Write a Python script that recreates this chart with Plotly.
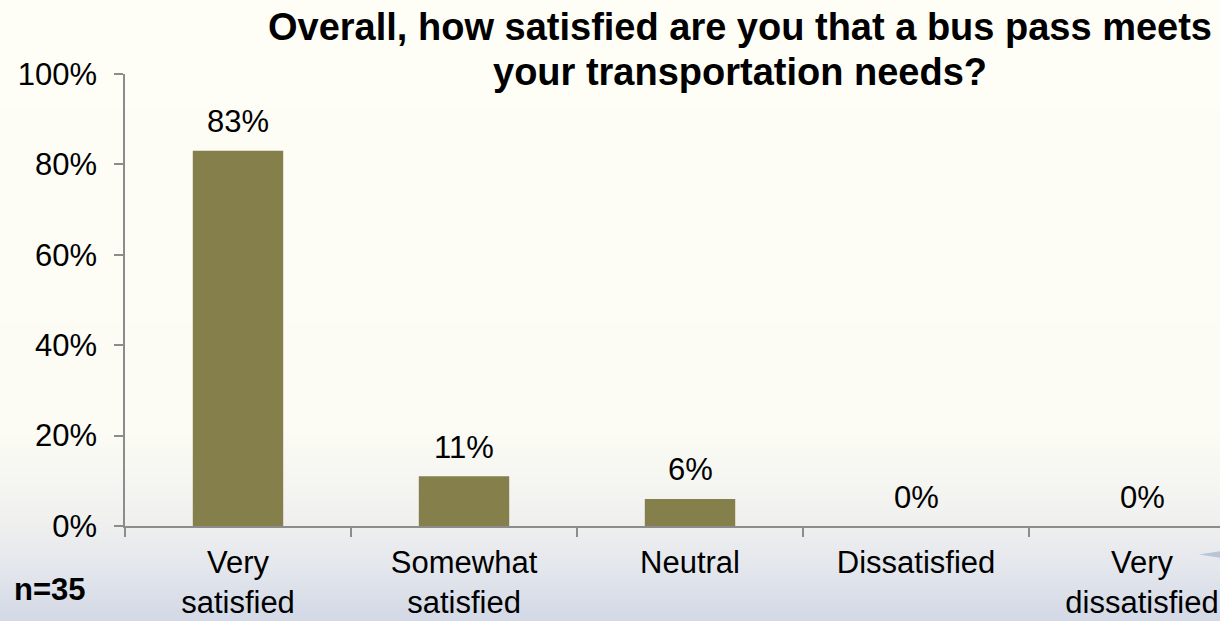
import plotly.graph_objects as go

# Survey results (percent of respondents, n=35)
categories = ["Very<br>satisfied", "Somewhat<br>satisfied", "Neutral", "Dissatisfied", "Very<br>dissatisfied"]
percent = [83, 11, 6, 0, 0]
y_ticks = [0, 20, 40, 60, 80, 100]
y_tick_labels = ["0%", "20%", "40%", "60%", "80%", "100%"]
title_lines = ["Overall, how satisfied are you that a bus pass meets", "your transportation needs?"]
sample_note = "n=35"

W, H = 1220, 621
L, R, T, B = 125, 0, 74, 95
plot_w = W - L - R
plot_h = H - T - B

FONT = "Arial, Liberation Sans, sans-serif"
BAR = "#857F4B"
AXIS = "#8C8C8C"


def px_x(px):
    return (px - L) / plot_w


def px_y(py):
    return (H - B - py) / plot_h


def hex_rgb(h):
    h = h.lstrip("#")
    return tuple(int(h[i:i + 2], 16) for i in (0, 2, 4))


# vertical background gradient (cream at top, pale blue at the bottom)
stops = [(0, "#FEFEF6"), (430, "#FCFCF5"), (520, "#F0F0EF"), (570, "#E3E6EC"), (621, "#D2D8E5")]


def grad(py):
    for (y0, c0), (y1, c1) in zip(stops, stops[1:]):
        if y0 <= py <= y1:
            t = (py - y0) / (y1 - y0)
            a, b = hex_rgb(c0), hex_rgb(c1)
            return "rgb(%d,%d,%d)" % tuple(round(a[i] + (b[i] - a[i]) * t) for i in range(3))
    return stops[-1][1]


shapes = []
step = 2
for py in range(0, H, step):
    shapes.append(dict(
        type="rect", xref="paper", yref="paper", layer="below",
        x0=px_x(0), x1=px_x(W), y0=px_y(py + step + 0.5), y1=px_y(py),
        fillcolor=grad(py + step / 2), line=dict(width=0),
    ))

# small decorative wedge at the lower right corner
shapes.append(dict(
    type="path", xref="paper", yref="paper", layer="below",
    path="M %f,%f L %f,%f L %f,%f Z" % (px_x(1199), px_y(554.5), px_x(1221), px_y(551), px_x(1221), px_y(558)),
    fillcolor="#B9C4D6", line=dict(width=0),
))

fig = go.Figure()
fig.add_trace(go.Bar(
    x=categories, y=percent, width=0.4,
    marker=dict(color=BAR, line=dict(width=0)),
    hoverinfo="skip",
))

annotations = []
for c, v in zip(categories, percent):
    annotations.append(dict(
        x=c, y=v, xref="x", yref="y", text=f"{v}%", showarrow=False,
        yanchor="middle", yshift=29, font=dict(family=FONT, size=31, color="#000000"),
    ))

for line, cy in zip(title_lines, [27, 72]):
    annotations.append(dict(
        x=px_x(740), y=px_y(cy), xref="paper", yref="paper", text=f"<b>{line}</b>",
        showarrow=False, xanchor="center", yanchor="middle",
        font=dict(family=FONT, size=38, color="#000000"),
    ))

annotations.append(dict(
    x=px_x(12), y=px_y(589), xref="paper", yref="paper", text=f"<b>{sample_note}</b>",
    showarrow=False, xanchor="left", yanchor="middle",
    font=dict(family=FONT, size=31, color="#000000"),
))

fig.update_layout(
    width=W, height=H,
    margin=dict(l=L, r=R, t=T, b=B, pad=0),
    paper_bgcolor="#FEFEF6", plot_bgcolor="rgba(0,0,0,0)",
    showlegend=False, bargap=0.6,
    shapes=shapes, annotations=annotations,
    font=dict(family=FONT, size=31, color="#000000"),
)
fig.update_xaxes(
    range=[-0.5, 4.345], showline=True, linecolor=AXIS, linewidth=1.5,
    ticks="outside", tickson="boundaries", ticklen=9, tickcolor=AXIS, tickwidth=1.5,
    showgrid=False, zeroline=False, tickfont=dict(family=FONT, size=31, color="#000000"),
    ticklabelstandoff=8,
)
fig.update_yaxes(
    range=[0, 100], tickvals=y_ticks, ticktext=y_tick_labels,
    showline=True, linecolor=AXIS, linewidth=1.5,
    ticks="outside", ticklen=9, tickcolor=AXIS, tickwidth=1.5,
    showgrid=False, zeroline=False, tickfont=dict(family=FONT, size=31, color="#000000"),
    ticklabelstandoff=11,
)

fig.write_html("out.html")
